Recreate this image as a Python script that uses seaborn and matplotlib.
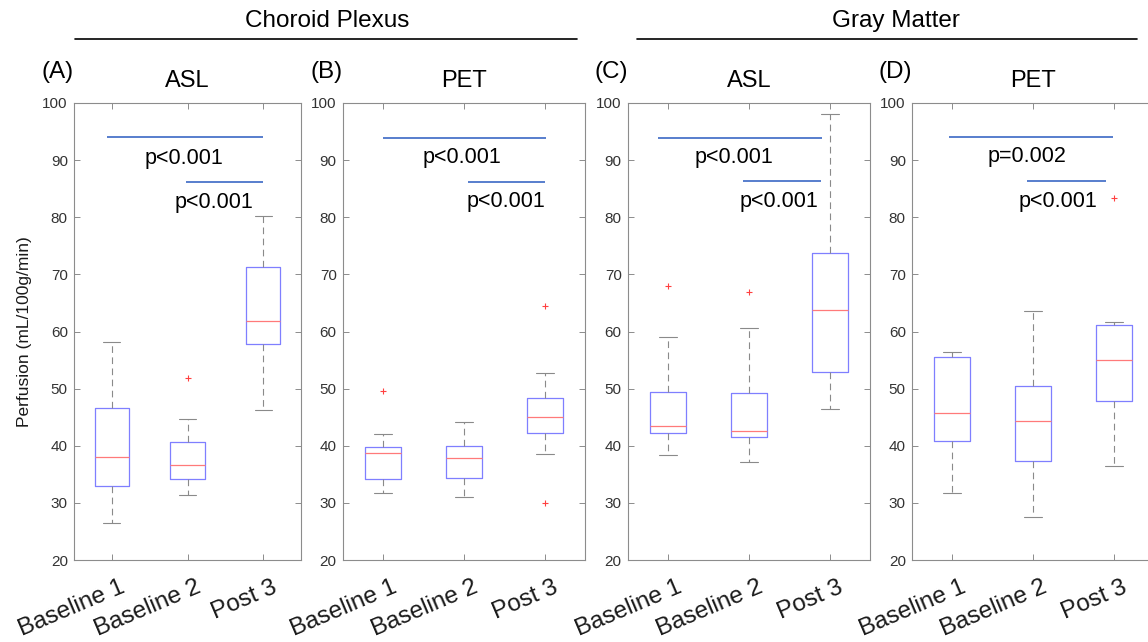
import numpy as np
import pandas as pd
import matplotlib
matplotlib.use("Agg")
import matplotlib.pyplot as plt
import matplotlib.transforms as mtransforms
from matplotlib.lines import Line2D
import seaborn as sns

conditions = ["Baseline 1", "Baseline 2", "Post 3"]

# Five-number summaries per condition: lower whisker, Q1, median, Q3, upper whisker
cp_asl_b1 = [26.5, 32.9, 38.0, 46.6, 58.1]
cp_asl_b2 = [31.4, 34.2, 36.7, 40.6, 44.7]
cp_asl_p3 = [46.2, 57.8, 61.9, 71.3, 80.3]

cp_pet_b1 = [31.8, 34.1, 38.8, 39.8, 42.1]
cp_pet_b2 = [31.0, 34.3, 37.8, 40.0, 44.1]
cp_pet_p3 = [38.5, 42.2, 45.1, 48.3, 52.7]

gm_asl_b1 = [38.3, 42.2, 43.4, 49.4, 59.1]
gm_asl_b2 = [37.1, 41.5, 42.5, 49.3, 60.6]
gm_asl_p3 = [46.5, 52.9, 63.8, 73.8, 98.1]

gm_pet_b1 = [31.8, 40.8, 45.8, 55.6, 56.4]
gm_pet_b2 = [27.5, 37.4, 44.4, 50.5, 63.6]
gm_pet_p3 = [36.4, 47.9, 55.0, 61.2, 61.6]

# Outlying observations (condition, value)
cp_asl_out_cond = ["Baseline 2"]
cp_asl_out_vals = [51.9]
cp_pet_out_cond = ["Baseline 1", "Post 3", "Post 3"]
cp_pet_out_vals = [49.6, 64.4, 29.9]
gm_asl_out_cond = ["Baseline 1", "Baseline 2"]
gm_asl_out_vals = [67.9, 67.0]
gm_pet_out_cond = ["Post 3"]
gm_pet_out_vals = [83.4]

# Pairwise comparison labels (Baseline 1 vs Post 3, Baseline 2 vs Post 3)
p_long = ["p<0.001", "p<0.001", "p<0.001", "p=0.002"]
p_short = ["p<0.001", "p<0.001", "p<0.001", "p<0.001"]

panels = [
    dict(letter="(A)", title="ASL", stats=[cp_asl_b1, cp_asl_b2, cp_asl_p3],
         out_c=cp_asl_out_cond, out_v=cp_asl_out_vals,
         rect=(74, 103, 227, 457),
         long=(-0.06, 2.0, 94.1), short=(0.98, 2.0, 86.2),
         t_long=(0.95, 89.4), t_short=(1.35, 81.7)),
    dict(letter="(B)", title="PET", stats=[cp_pet_b1, cp_pet_b2, cp_pet_p3],
         out_c=cp_pet_out_cond, out_v=cp_pet_out_vals,
         rect=(343, 103, 242, 457),
         long=(-0.01, 2.02, 93.8), short=(1.05, 2.01, 86.2),
         t_long=(0.97, 89.5), t_short=(1.52, 81.8)),
    dict(letter="(C)", title="ASL", stats=[gm_asl_b1, gm_asl_b2, gm_asl_p3],
         out_c=gm_asl_out_cond, out_v=gm_asl_out_vals,
         rect=(628, 103, 242, 457),
         long=(-0.13, 1.9, 93.9), short=(0.93, 1.89, 86.3),
         t_long=(0.81, 89.5), t_short=(1.37, 81.8)),
    dict(letter="(D)", title="PET", stats=[gm_pet_b1, gm_pet_b2, gm_pet_p3],
         out_c=gm_pet_out_cond, out_v=gm_pet_out_vals,
         rect=(912, 103, 242, 457),
         long=(-0.04, 1.99, 94.0), short=(0.92, 1.90, 86.3),
         t_long=(0.92, 89.7), t_short=(1.31, 81.8)),
]

W, H = 1148, 642
BOX_BLUE = "#7f7fff"
MED_RED = "#ff7a7a"
WHISK = "#8a8a8a"
OUT_RED = "#ff4040"
SIG_BLUE = "#4a74c9"
SPINE = "#8c8c8c"
LABEL = "#1a1a1a"

sns.set_theme(style="ticks")
plt.rcParams["font.family"] = ["Liberation Sans", "DejaVu Sans"]
plt.rcParams.update({
    "axes.edgecolor": SPINE,
    "axes.linewidth": 0.8,
    "xtick.color": SPINE,
    "ytick.color": SPINE,
    "ytick.labelcolor": "#333333",
})

fig = plt.figure(figsize=(W / 100, H / 100), dpi=100)
# category labels sit a little right of and below each tick
cat_offset = mtransforms.ScaledTranslation(8 / 100, -16 / 100, fig.dpi_scale_trans)

for i, p in enumerate(panels):
    x0, y0, w, h = p["rect"]
    ax = fig.add_axes([x0 / W, 1 - (y0 + h) / H, w / W, h / H])

    box_df = pd.DataFrame({
        "condition": np.repeat(conditions, 5),
        "value": np.concatenate(p["stats"]),
    })
    sns.boxplot(
        data=box_df, x="condition", y="value", order=conditions, ax=ax,
        width=0.45, whis=(0, 100), fill=False, color=BOX_BLUE,
        linewidth=0.9, showfliers=False,
        boxprops=dict(color=BOX_BLUE, linewidth=0.9),
        medianprops=dict(color=MED_RED, linewidth=0.9),
        whiskerprops=dict(color=WHISK, linewidth=0.8, linestyle=(0, (6, 4))),
        capprops=dict(color=WHISK, linewidth=0.8),
    )

    out_df = pd.DataFrame({"condition": p["out_c"], "value": p["out_v"]})
    sns.stripplot(
        data=out_df, x="condition", y="value", order=conditions, ax=ax,
        jitter=False, marker="+", color=OUT_RED, edgecolor=OUT_RED,
        size=4, linewidth=0.8,
    )

    ax.set_xlim(-0.5, 2.5)
    ax.set_ylim(20, 100)
    ax.set_yticks(np.arange(20, 101, 10))
    ax.set_xticks(range(3))
    ax.tick_params(axis="both", direction="in", top=True, right=True,
                   length=4, width=0.7)
    ax.tick_params(axis="y", labelsize=11, pad=4.5)
    ax.tick_params(axis="x", labelbottom=False)
    trans = ax.get_xaxis_transform() + cat_offset
    for k, cond in enumerate(conditions):
        ax.text(k, 0, cond, transform=trans, rotation=23, ha="right",
                va="top", rotation_mode="anchor", fontsize=17.5, color=LABEL)
    for s in ax.spines.values():
        s.set_visible(True)
        s.set_color(SPINE)

    ax.set_xlabel("")
    if i == 0:
        ax.set_ylabel("Perfusion (mL/100g/min)", fontsize=12.5, color=LABEL)
        ax.yaxis.set_label_coords(-42 / w, 0.5)
    else:
        ax.set_ylabel("")

    ax.set_title(p["title"], fontsize=17, pad=11.5, color="black")
    fig.text(x0 / W, 1 - 78 / H, p["letter"], ha="right", va="baseline",
             fontsize=17.5, color="black")

    # significance brackets
    for (xa, xb, yv) in (p["long"], p["short"]):
        ax.plot([xa, xb], [yv, yv], color=SIG_BLUE, linewidth=1.3,
                solid_capstyle="butt")
    ax.text(p["t_long"][0], p["t_long"][1], p_long[i], ha="center",
            va="baseline", fontsize=15.5, color="black")
    ax.text(p["t_short"][0], p["t_short"][1], p_short[i], ha="center",
            va="baseline", fontsize=15.5, color="black")

# Region headers with underlines
for label, xa, xb, xt in (("Choroid Plexus", 75, 577, 327),
                          ("Gray Matter", 637, 1137, 896)):
    fig.add_artist(Line2D([xa / W, xb / W], [1 - 39 / H, 1 - 39 / H],
                          color="black", linewidth=1.2))
    fig.text(xt / W, 1 - 27 / H, label, ha="center", va="baseline",
             fontsize=17.5, color="black")

fig.savefig("out.png", dpi=100)
